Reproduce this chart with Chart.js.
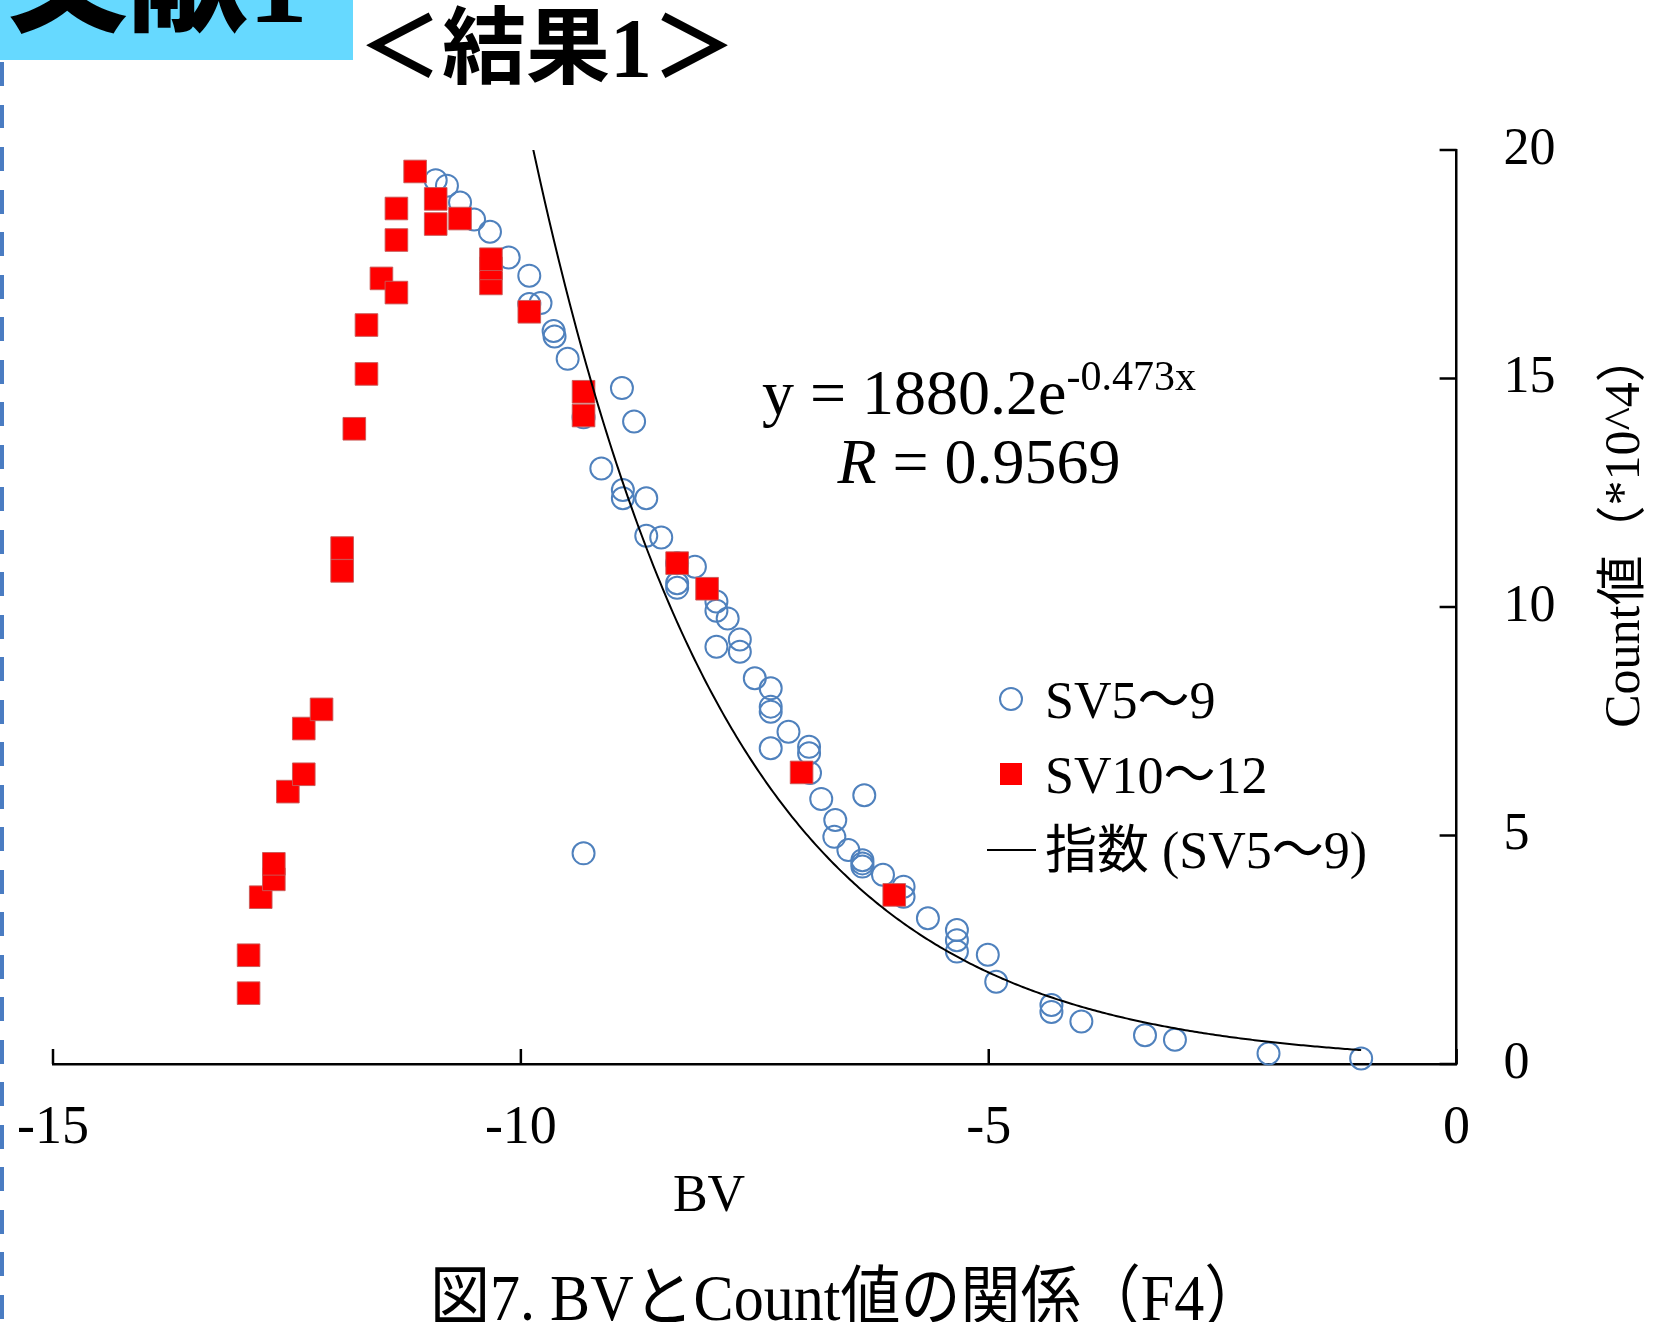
<!DOCTYPE html>
<html lang="ja">
<head>
<meta charset="utf-8">
<title>BVとCount値の関係</title>
<script src="https://cdn.jsdelivr.net/npm/chart.js@4.4.0/dist/chart.umd.min.js"></script>
<style>
  html, body { margin: 0; padding: 0; background: #fff; }
  body { width: 1655px; height: 1322px; position: relative; overflow: hidden; }
  #tag { position: absolute; left: 0; top: 0; width: 353px; height: 60px; background: #66d9ff; overflow: hidden; }
  #tag span.t { position: absolute; left: 8px; top: -90px; font: 900 120px "Noto Sans CJK JP"; line-height: 1; white-space: nowrap; color: #000; }
  .num { font-family: "Liberation Serif"; font-weight: 700; }
  #heading { position: absolute; left: 358px; top: -1px; font: 700 84px "Noto Sans CJK JP"; line-height: 1; white-space: nowrap; color: #000; }
  #rule { position: absolute; left: 0; top: 62px; width: 4px; height: 1260px;
          background: repeating-linear-gradient(to bottom, #4a7cc2 0 24px, transparent 24px 42.5px); }
  #caption { position: absolute; left: 430px; top: 1265px; font: 400 66px "Liberation Serif", "Noto Sans CJK JP"; line-height: 1;
             white-space: nowrap; color: #000; transform: scaleX(0.91); transform-origin: left top; }
  #chart { position: absolute; left: 0; top: 0; }
</style>
</head>
<body>
<div id="tag"><span class="t">文献<span class="num">1</span></span></div>
<div id="heading">＜結果<span class="num">1</span>＞</div>
<div id="rule"></div>
<canvas id="chart" width="1655" height="1322"></canvas>
<div id="caption">図7. BVとCount値の関係（F4）</div>
<script>
// SV5～9 : BV and Count (×10^4)
const sv59X = [-10.91, -10.79, -10.65, -10.50, -10.33, -10.13, -9.91, -9.91, -9.79, -9.65,
               -9.64, -9.50, -8.92, -9.33, -8.79, -9.14, -8.91, -8.91, -8.66, -8.66,
               -8.50, -8.33, -8.14, -8.33, -8.33, -7.91, -7.91, -7.79, -7.66, -7.66,
               -7.91, -7.50, -7.33, -7.33, -7.33, -7.14, -7.33, -6.92, -6.92, -6.91,
               -6.79, -6.33, -6.64, -6.65, -6.50, -6.35, -6.35, -6.35, -6.13, -5.91,
               -5.91, -5.65, -5.34, -5.34, -5.34, -5.01, -4.92, -4.33, -4.33, -4.01,
               -3.33, -3.01, -2.01, -1.02, -9.33];
const sv59Y = [19.34, 19.22, 18.85, 18.48, 18.21, 17.65, 17.25, 16.63, 16.65, 16.04,
               15.92, 15.43, 14.79, 14.15, 14.06, 13.03, 12.56, 12.38, 12.38, 11.56,
               11.52, 10.96, 10.88, 10.52, 10.42, 10.12, 9.92, 9.75, 9.29, 9.02,
               9.13, 8.44, 8.22, 7.82, 7.71, 7.27, 6.91, 6.94, 6.80, 6.37,
               5.80, 5.88, 5.34, 4.97, 4.68, 4.46, 4.39, 4.32, 4.14, 3.88,
               3.66, 3.19, 2.93, 2.71, 2.46, 2.39, 1.80, 1.29, 1.14, 0.93,
               0.63, 0.53, 0.23, 0.12, 4.61];

// SV10～12 : BV and Count (×10^4)
const sv1012X = [-12.91, -12.91, -12.78, -12.64, -12.64, -12.49, -12.32, -12.32, -12.13, -11.91,
                 -11.91, -11.78, -11.65, -11.65, -11.49, -11.33, -11.33, -11.33, -11.13, -10.91,
                 -10.91, -10.65, -10.32, -10.32, -10.32, -9.91, -9.33, -9.33, -8.33, -8.01,
                 -7.00, -6.01];
const sv1012Y = [1.55, 2.38, 3.65, 4.04, 4.38, 5.96, 6.34, 7.34, 7.76, 10.79,
                 11.29, 13.90, 15.10, 16.17, 17.19, 16.88, 18.03, 18.72, 19.53, 18.38,
                 18.93, 18.50, 17.08, 17.41, 17.61, 16.46, 14.19, 14.71, 10.96, 10.40,
                 6.38, 3.70];

// Exponential trend of SV5～9 as printed on the chart: y = 1880.2e^(-0.473x)
const trendCoef = 1880.2;
const trendRate = -0.473;
const trendR = 0.9569;
const countUnit = 10000;

const xTicks = [-15, -10, -5, 0];
const yTicks = [0, 5, 10, 15, 20];

const seriesNames = ['SV5～9', 'SV10～12', '指数 (SV5～9)'];

const toPoints = (xs, ys) => xs.map((x, i) => ({ x: x, y: ys[i] }));

const trendFrom = Math.min(...sv59X);
const trendTo = Math.max(...sv59X);
const trendPts = [];
for (let k = 0; k <= 400; k++) {
  const x = trendFrom + (trendTo - trendFrom) * k / 400;
  trendPts.push({ x: x, y: trendCoef * Math.exp(trendRate * x) / countUnit });
}

const BLUE = '#4f81bd';
const RED = '#ff0000';
const SERIF = '"Liberation Serif", "Noto Sans CJK JP"';

// inward tick marks on both axes
const innerTicks = {
  id: 'innerTicks',
  afterDraw(chart) {
    const { ctx, scales: { x, y }, chartArea } = chart;
    ctx.save();
    ctx.strokeStyle = '#000';
    ctx.lineWidth = 2.5;
    xTicks.forEach(v => {
      const px = x.getPixelForValue(v);
      ctx.beginPath();
      ctx.moveTo(px, chartArea.bottom);
      ctx.lineTo(px, chartArea.bottom - 15);
      ctx.stroke();
    });
    yTicks.forEach(v => {
      const py = y.getPixelForValue(v);
      ctx.beginPath();
      ctx.moveTo(chartArea.right, py);
      ctx.lineTo(chartArea.right - 17, py);
      ctx.stroke();
    });
    ctx.restore();
  }
};

// axis titles, legend and the fit equation
const annotations = {
  id: 'annotations',
  afterDraw(chart) {
    const { ctx } = chart;
    ctx.save();
    ctx.fillStyle = '#000';

    // x axis title
    ctx.font = '52px ' + SERIF;
    ctx.textAlign = 'center';
    ctx.textBaseline = 'alphabetic';
    ctx.fillText('BV', 709, 1211);

    // y axis title, reading upward
    ctx.save();
    ctx.translate(1626, 530);
    ctx.rotate(-Math.PI / 2);
    ctx.font = '50px ' + SERIF;
    ctx.textAlign = 'center';
    ctx.textBaseline = 'middle';
    ctx.fillText('Count値（*10^4）', 0, 0);
    ctx.restore();

    // legend
    const lx = 1011, tx = 1045;
    const rows = [718, 793, 868];
    ctx.font = '52px ' + SERIF;
    ctx.textAlign = 'left';
    ctx.textBaseline = 'alphabetic';
    ctx.strokeStyle = BLUE;
    ctx.lineWidth = 2;
    ctx.beginPath();
    ctx.arc(lx, 699, 11, 0, Math.PI * 2);
    ctx.stroke();
    ctx.fillText(seriesNames[0], tx, rows[0]);

    ctx.fillStyle = RED;
    ctx.fillRect(lx - 11, 774 - 11, 22, 22);
    ctx.fillStyle = '#000';
    ctx.fillText(seriesNames[1], tx, rows[1]);

    ctx.strokeStyle = '#000';
    ctx.lineWidth = 2;
    ctx.beginPath();
    ctx.moveTo(987, 850);
    ctx.lineTo(1036, 850);
    ctx.stroke();
    ctx.fillText(seriesNames[2], tx, rows[2]);

    // fit equation
    const main = 'y = ' + trendCoef.toFixed(1) + 'e';
    const sup = (trendRate).toFixed(3) + 'x';
    ctx.font = '64px "Liberation Serif"';
    const wMain = ctx.measureText(main).width;
    ctx.font = '42px "Liberation Serif"';
    const wSup = ctx.measureText(sup).width;
    const cx = 979;
    let sx = cx - (wMain + wSup) / 2;
    ctx.font = '64px "Liberation Serif"';
    ctx.fillText(main, sx, 414);
    ctx.font = '42px "Liberation Serif"';
    ctx.fillText(sup, sx + wMain, 390);

    ctx.font = 'italic 64px "Liberation Serif"';
    const rTxt = 'R';
    const wR = ctx.measureText(rTxt).width;
    ctx.font = '64px "Liberation Serif"';
    const rest = ' = ' + trendR.toFixed(4);
    const wRest = ctx.measureText(rest).width;
    sx = cx - (wR + wRest) / 2;
    ctx.font = 'italic 64px "Liberation Serif"';
    ctx.fillText(rTxt, sx, 483);
    ctx.font = '64px "Liberation Serif"';
    ctx.fillText(rest, sx + wR, 483);

    ctx.restore();
  }
};

new Chart(document.getElementById('chart'), {
  type: 'scatter',
  data: {
    datasets: [
      {
        label: seriesNames[0],
        data: toPoints(sv59X, sv59Y),
        pointStyle: 'circle',
        pointRadius: 11,
        pointBorderWidth: 2,
        borderColor: BLUE,
        backgroundColor: 'rgba(0,0,0,0)',
        clip: false,
        order: 3
      },
      {
        label: seriesNames[1],
        data: toPoints(sv1012X, sv1012Y),
        pointStyle: 'rect',
        pointRadius: 16,
        pointBorderWidth: 1,
        borderColor: 'rgba(200,90,88,0.9)',
        backgroundColor: RED,
        clip: false,
        order: 2
      },
      {
        type: 'line',
        label: seriesNames[2],
        data: trendPts,
        borderColor: '#000',
        borderWidth: 2,
        pointRadius: 0,
        fill: false,
        tension: 0,
        order: 1
      }
    ]
  },
  options: {
    responsive: false,
    animation: false,
    events: [],
    layout: { padding: { left: 53, top: 150, right: 68.4, bottom: 148 } },
    plugins: { legend: { display: false }, tooltip: { enabled: false } },
    scales: {
      x: {
        type: 'linear',
        position: 'bottom',
        min: -15, max: 0,
        afterBuildTicks: s => { s.ticks = xTicks.map(v => ({ value: v })); },
        afterFit: s => { s.height = 110; s.paddingLeft = 0; s.paddingRight = 0; },
        ticks: { color: '#000', padding: 32, maxRotation: 0, font: { family: 'Liberation Serif', size: 54 }, callback: v => String(v) },
        grid: { display: true, drawOnChartArea: false, drawTicks: false },
        border: { display: true, color: '#000', width: 2.5 }
      },
      y: {
        type: 'linear',
        position: 'right',
        min: 0, max: 20,
        afterBuildTicks: s => { s.ticks = yTicks.map(v => ({ value: v })); },
        afterFit: s => { s.width = 130; s.paddingTop = 0; s.paddingBottom = 0; },
        ticks: { color: '#000', padding: 47, font: { family: 'Liberation Serif', size: 52 }, callback: v => String(v) },
        grid: { display: true, drawOnChartArea: false, drawTicks: false },
        border: { display: true, color: '#000', width: 2.5 }
      }
    }
  },
  plugins: [innerTicks, annotations]
});
</script>
</body>
</html>
